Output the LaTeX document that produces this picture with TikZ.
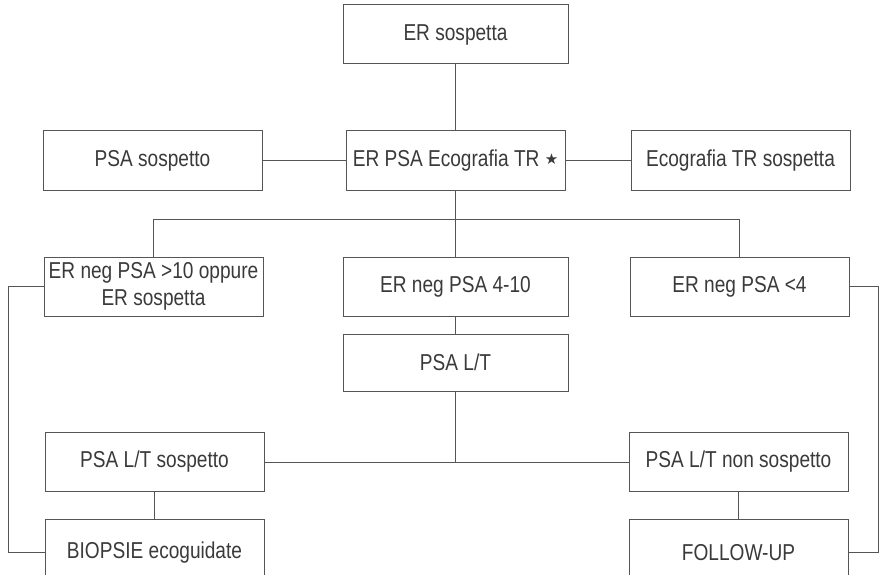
\documentclass[tikz,border=0pt]{standalone}
\usepackage{fontspec}
\setmainfont{Liberation Sans}[FakeStretch=0.83]
\newfontfamily\symfont{DejaVu Sans}
\usepackage{tikz}
\usetikzlibrary{positioning}
\definecolor{boxline}{HTML}{555555}
\definecolor{txtgray}{HTML}{3A3A3A}
\tikzset{flowbox/.style={draw=boxline, line width=1pt, text=txtgray, minimum width=219pt, minimum height=59pt, align=center, inner sep=2pt, font=\fontsize{23}{26.5}\selectfont}}
\tikzset{widebox/.style={flowbox, minimum width=225pt}}
\tikzset{link/.style={draw=boxline, line width=1pt}}
\begin{document}
\begin{tikzpicture}[x=1pt,y=-1pt]
  \useasboundingbox (0,0) rectangle (883,575);
  % top part
  \node[widebox] (sosp) at (455.5,34.5) {ER sospetta};
  \node[flowbox] (centro) [below=66pt of sosp] {ER PSA Ecografia TR \raisebox{1.5pt}{\symfont\fontsize{15}{15}\selectfont ★}};
  \node[flowbox] (psasosp) [left=83pt of centro] {PSA sospetto};
  \node[flowbox] (ecososp) [right=65pt of centro] {Ecografia TR sospetta};
  % second row
  \node[widebox] (neg410) [below=66pt of centro] {ER neg PSA 4-10};
  \node[flowbox] (neg10) [left=79pt of neg410] {ER neg PSA >10 oppure\\ER sospetta};
  \node[flowbox] (neg4) [right=61pt of neg410] {ER neg PSA <4};
  \node[widebox, minimum height=57pt] (psalt) [below=17pt of neg410] {PSA L/T};
  % lower part
  \node[flowbox] (ltsosp) at (154.5,462) {PSA L/T sospetto};
  \node[flowbox] (ltnon) at (738.5,462) {PSA L/T non sospetto};
  \node[flowbox, minimum height=66pt] (biopsie) [below=27pt of ltsosp] {BIOPSIE ecoguidate};
  \node[flowbox, minimum height=66pt] (follow) [below=27pt of ltnon] {FOLLOW-UP};
  \coordinate (bar) at (455,219);
  \draw[link] (sosp) -- (centro);
  \draw[link] (psasosp) -- (centro);
  \draw[link] (centro) -- (ecososp);
  \draw[link] (centro) -- (neg410);
  \draw[link] (neg10.north) -- (neg10.north |- bar) -- (neg4.north |- bar) -- (neg4.north);
  \draw[link] (neg410) -- (psalt);
  \draw[link] (ltsosp) -- (ltnon);
  \draw[link] (psalt.south) -- (psalt.south |- ltsosp.east);
  \draw[link] (ltsosp) -- (biopsie);
  \draw[link] (ltnon) -- (follow);
  \draw[link] (neg10.west) -- ++(-35,0) |- (biopsie.west);
  \draw[link] (neg4.east) -- ++(29,0) |- (follow.east);
\end{tikzpicture}
\end{document}
